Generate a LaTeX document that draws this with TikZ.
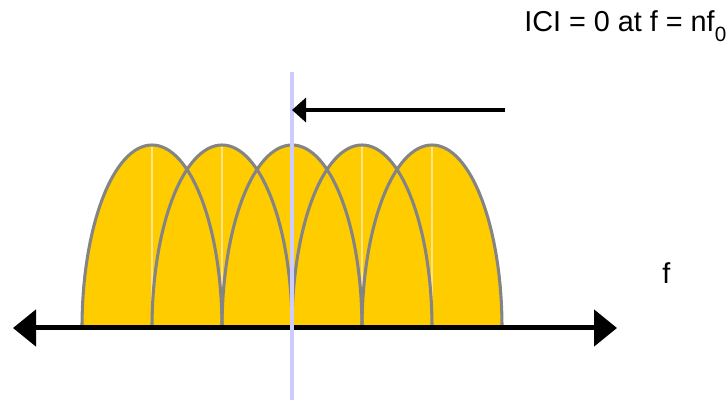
\documentclass[tikz,border=0pt]{standalone}
\usepackage{fontspec}
\setmainfont{Liberation Sans}
\usepackage{xcolor}
\usetikzlibrary{positioning, calc, arrows.meta}

\definecolor{lobefill}{HTML}{FFCC00}
\definecolor{lobeline}{HTML}{848484}
\definecolor{peakline}{HTML}{FFE38A}
\definecolor{markline}{HTML}{CCCCFF}

\begin{document}
\begin{tikzpicture}[
  x=0.75pt, y=0.75pt,
  font=\fontsize{21.6}{26}\selectfont,
  axis arrow/.style={line width=3.75pt, {Triangle[length=17.25pt, width=27pt]}-{Triangle[length=17.25pt, width=27pt]}},
  shift arrow/.style={line width=3pt, -{Triangle[length=10.5pt, width=18pt]}},
]
\useasboundingbox (0,0) rectangle (726,400);

% baseline of the spectrum
\pgfmathsetmacro{\yb}{72}
% half width and height of one lobe
\pgfmathsetmacro{\rx}{70}
\pgfmathsetmacro{\ry}{183}

% ---- lobe fills ----
\foreach \c in {152, 222, 292, 362, 432} {
  \fill[lobefill] (\c-\rx, \yb) arc[start angle=180, end angle=0,
    x radius=\rx*0.75pt, y radius=\ry*0.75pt] -- cycle;
}
% ---- faint line at every peak ----
\foreach \c in {152, 222, 292, 362, 432} {
  \draw[peakline, line width=0.9pt] (\c, \yb) -- (\c, \yb+\ry);
}
% ---- lobe outlines ----
\foreach \c in {152, 222, 292, 362, 432} {
  \draw[lobeline, line width=2.3pt] (\c-\rx, \yb) arc[start angle=180, end angle=0,
    x radius=\rx*0.75pt, y radius=\ry*0.75pt];
}

% ---- frequency axis ----
\coordinate (axL) at (13, \yb);
\coordinate (axR) at (617, \yb);
\draw[axis arrow] (axL) -- (axR);

% ---- sampling point ----
\coordinate (markTop) at (292, 328);
\coordinate (markBot) at (292, 0);
\draw[markline, line width=2.5pt] (markTop) -- (markBot);

\coordinate (shiftS) at (505, 290);
\coordinate (shiftE) at (292, 290);
\draw[shift arrow] (shiftS) -- (shiftE);

% ---- labels ----
\node[anchor=base west, inner sep=0pt] (ici) at (524, 368)
  {ICI = 0 at f = nf\raisebox{-7.5pt}{\fontsize{15.5}{15}\selectfont 0}};
\node[anchor=base west, inner sep=0pt] (flabel) at (662, 116) {f};

\end{tikzpicture}
\end{document}
